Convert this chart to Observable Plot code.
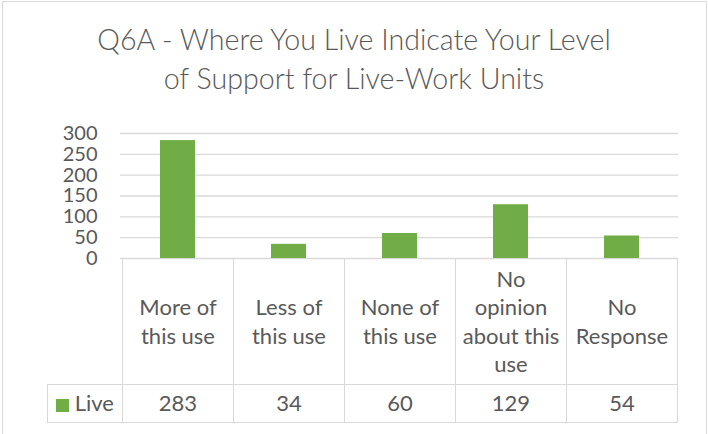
<!DOCTYPE html>
<html>
<head>
<meta charset="utf-8">
<script src="https://cdn.jsdelivr.net/npm/d3@7"></script>
<script src="https://cdn.jsdelivr.net/npm/@observablehq/plot@0.6"></script>
<style>
  body { margin: 0; background: #fff; }
  #wrap { position: relative; width: 708px; height: 434px; overflow: hidden; background: #fff;
          font-family: Lato, "Open Sans", sans-serif; color: #595959; }
  #frame { position: absolute; left: 2px; top: 1px; width: 705px; height: 460px;
           border: 1px solid #d9d9d9; box-sizing: border-box; }
  #title { position: absolute; left: 0; top: 19.5px; width: 708px; text-align: center;
           font-size: 28.6px; line-height: 39.5px; font-weight: 300; }
  #chart { position: absolute; left: 0; top: 0; }
  #table { position: absolute; top: 258px; border-collapse: collapse; table-layout: fixed;
           font-size: 22px; color: #595959; }
  #table td { border: 1px solid #d9d9d9; text-align: center; vertical-align: middle;
              padding: 0; line-height: 28.4px; }
  #table td.corner { border-top: none; border-left: none; }
  .key { display: inline-block; width: 13px; height: 13px; background: #70ad47;
         margin-right: 6px; vertical-align: -1px; }
</style>
</head>
<body>
<div id="wrap">
  <div id="frame"></div>
  <div id="title">Q6A - Where You Live Indicate Your Level<br>of Support for Live-Work Units</div>
  <div id="chart"></div>
</div>
<script>
// ---- data ----
const categories = ["More of this use", "Less of this use", "None of this use", "No opinion about this use", "No Response"];
const categoryLines = [["More of", "this use"], ["Less of", "this use"], ["None of", "this use"], ["No", "opinion", "about this", "use"], ["No", "Response"]];
const values = [283, 34, 60, 129, 54];
const seriesName = "Live";
const yTicks = [0, 50, 100, 150, 200, 250, 300];

const data = categories.map((c, i) => ({category: c, value: values[i]}));
const green = "#70ad47";
const grid = "#d9d9d9";

const chart = Plot.plot({
  width: 708,
  height: 275,
  marginTop: 133,
  marginBottom: 17,
  marginLeft: 120,
  marginRight: 30,
  style: {fontFamily: "Lato, 'Open Sans', sans-serif", fontSize: "20px", color: "#595959", background: "transparent", overflow: "visible"},
  x: {domain: categories, paddingInner: 0.686, paddingOuter: 0.343, axis: null},
  y: {domain: [0, 300], ticks: yTicks, tickSize: 0, tickPadding: 23, label: null},
  marks: [
    Plot.ruleY(yTicks, {stroke: grid, strokeWidth: 1.3}),
    Plot.barY(data, {x: "category", y: "value", fill: green})
  ]
});
document.getElementById("chart").appendChild(chart);

// ---- data table under the plot, aligned on the x scale ----
const xs = chart.scale("x");
const step = xs.step;
const lefts = categories.map(c => xs.apply(c) + xs.bandwidth / 2 - step / 2);
const tableLeft = 46.7;
const table = document.createElement("table");
table.id = "table";
table.style.left = tableLeft + "px";
const colgroup = document.createElement("colgroup");
const c0 = document.createElement("col");
c0.style.width = (lefts[0] - tableLeft) + "px";
colgroup.appendChild(c0);
categories.forEach(() => { const c = document.createElement("col"); c.style.width = step + "px"; colgroup.appendChild(c); });
table.appendChild(colgroup);
table.style.width = (lefts[0] - tableLeft + step * categories.length) + "px";

const r1 = document.createElement("tr");
r1.style.height = "126px";
const corner = document.createElement("td");
corner.className = "corner";
r1.appendChild(corner);
categoryLines.forEach(lines => {
  const td = document.createElement("td");
  td.innerHTML = lines.join("<br>");
  r1.appendChild(td);
});
table.appendChild(r1);

const r2 = document.createElement("tr");
r2.style.height = "37.7px";
const lead = document.createElement("td");
lead.innerHTML = '<span class="key"></span>' + seriesName;
r2.appendChild(lead);
values.forEach(v => {
  const td = document.createElement("td");
  td.textContent = v;
  r2.appendChild(td);
});
table.appendChild(r2);
document.getElementById("wrap").appendChild(table);
</script>
</body>
</html>
